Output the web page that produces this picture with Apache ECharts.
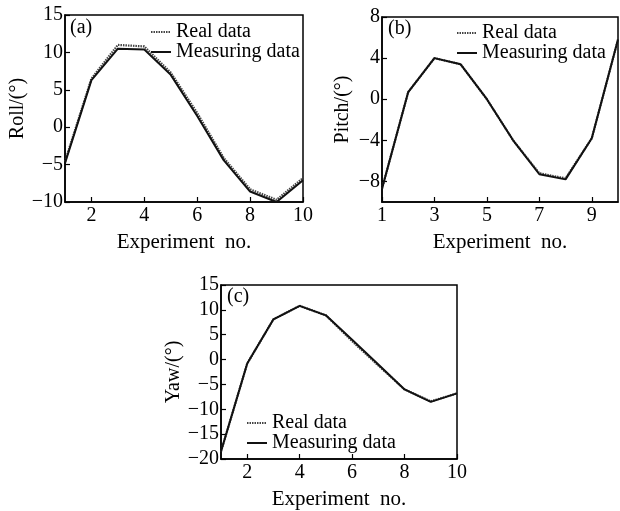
<!DOCTYPE html>
<html><head><meta charset="utf-8">
<script src="https://cdn.jsdelivr.net/npm/echarts@6/dist/echarts.min.js"></script>
<style>html,body{margin:0;padding:0;background:#fff}#c{width:620px;height:511px}</style>
</head><body><div id="c"></div>
<script>
const experiments = [1, 2, 3, 4, 5, 6, 7, 8, 9, 10];
const rollReal = [-4.6, 6.5, 11.0, 10.8, 7.3, 1.9, -4.1, -8.3, -9.7, -6.8];
const rollMeas = [-4.8, 6.3, 10.5, 10.4, 7.0, 1.5, -4.4, -8.6, -10.0, -7.1];
const pitchReal = [-8.7, 0.7, 4.0, 3.4, 0.0, -4.0, -7.2, -7.7, -3.8, 5.8];
const pitchMeas = [-8.7, 0.7, 4.0, 3.4, 0.0, -4.0, -7.3, -7.8, -3.8, 5.8];
const yawReal = [-18.5, -0.8, 8.1, 10.8, 8.9, 3.7, -1.2, -6.0, -8.4, -6.8];
const yawMeas = [-18.5, -0.8, 8.1, 10.8, 8.9, 4.0, -1.0, -6.0, -8.5, -6.8];
const rollXTicks = [2, 4, 6, 8, 10];
const rollYTicks = [-10, -5, 0, 5, 10, 15];
const pitchXTicks = [1, 3, 5, 7, 9];
const pitchYTicks = [-8, -4, 0, 4, 8];
const yawXTicks = [2, 4, 6, 8, 10];
const yawYTicks = [-20, -15, -10, -5, 0, 5, 10, 15];

const FONT = 'Liberation Serif';
const FS = 20;
const pair = (ys) => experiments.map((x, i) => [x, ys[i]]);
const fmt = v => String(v).replace('-', '\u2212');

function xAxis(idx, ticks, min, max) {
  return {
    type: 'value', gridIndex: idx, min: min, max: max,
    name: 'Experiment  no.', nameLocation: 'middle', nameGap: 30,
    nameTextStyle: { fontFamily: FONT, fontSize: 21, color: '#000' },
    axisLine: { show: true, onZero: false, lineStyle: { color: '#000', width: 1.5 } },
    axisTick: { show: true, inside: true, length: 5, customValues: ticks, lineStyle: { color: '#000', width: 1.2 } },
    axisLabel: { customValues: ticks, fontFamily: FONT, fontSize: FS, color: '#000', margin: 4, formatter: fmt },
    splitLine: { show: false }
  };
}
function yAxis(idx, name, ticks, min, max, gap) {
  return {
    type: 'value', gridIndex: idx, min: min, max: max,
    name: name, nameLocation: 'middle', nameGap: gap, nameRotate: 90,
    nameTextStyle: { fontFamily: FONT, fontSize: FS, color: '#000' },
    axisLine: { show: true, onZero: false, lineStyle: { color: '#000', width: 1.5 } },
    axisTick: { show: true, inside: true, length: 5, customValues: ticks, lineStyle: { color: '#000', width: 1.2 } },
    axisLabel: { customValues: ticks, fontFamily: FONT, fontSize: FS, color: '#000', margin: 2, formatter: fmt },
    splitLine: { show: false }
  };
}
function series(name, idx, data, dotted) {
  return {
    name: name, type: 'line', xAxisIndex: idx, yAxisIndex: idx,
    data: data, symbol: 'none', z: dotted ? 2 : 3,
    lineStyle: dotted ? { color: '#444', width: 2.2, type: [1.5, 1] } : { color: '#111', width: 2 },
    itemStyle: { color: dotted ? '#444' : '#111' }
  };
}
function legend(left, top) {
  return {
    show: true, orient: 'vertical', left: left, top: top, right: 'auto', bottom: 'auto',
    itemGap: 0, itemWidth: 20, itemHeight: 20, padding: 0,
    selectedMode: false,
    itemStyle: { opacity: 0 },
    data: ['Real data', 'Measuring data'],
    textStyle: { fontFamily: FONT, fontSize: FS, color: '#000' }
  };
}
const gridBase = { show: true, borderColor: '#000', borderWidth: 1.5, backgroundColor: 'transparent' };
const panelLabel = (t, l, tp) => ({ text: t, left: l, top: tp, padding: 0, textStyle: { fontFamily: FONT, fontSize: FS, fontWeight: 'normal', color: '#000' } });

const chart = echarts.init(document.getElementById('c'), null, { renderer: 'canvas' });
chart.setOption({
  animation: false,
  backgroundColor: '#fff',
  title: [panelLabel('(a)', 70, 18), panelLabel('(b)', 388, 19), panelLabel('(c)', 227, 287)],
  grid: [
    Object.assign({ left: 65, top: 15, width: 238, height: 187 }, gridBase),
    Object.assign({ left: 382, top: 17, width: 236, height: 185 }, gridBase),
    Object.assign({ left: 221, top: 285, width: 236, height: 184 }, gridBase)
  ],
  xAxis: [xAxis(0, rollXTicks, 1, 10), xAxis(1, pitchXTicks, 1, 10), xAxis(2, yawXTicks, 1, 10)],
  yAxis: [yAxis(0, 'Roll/(\u00b0)', rollYTicks, -10, 15, 31), yAxis(1, 'Pitch/(\u00b0)', pitchYTicks, -10, 8, 29), yAxis(2, 'Yaw/(\u00b0)', yawYTicks, -20, 15, 29)],
  legend: [legend(150, 22), legend(456, 23), legend(246, 413)],
  series: [
    series('Real data', 0, pair(rollReal), true),
    series('Measuring data', 0, pair(rollMeas), false),
    series('Real data', 1, pair(pitchReal), true),
    series('Measuring data', 1, pair(pitchMeas), false),
    series('Real data', 2, pair(yawReal), true),
    series('Measuring data', 2, pair(yawMeas), false)
  ]
});
</script></body></html>
